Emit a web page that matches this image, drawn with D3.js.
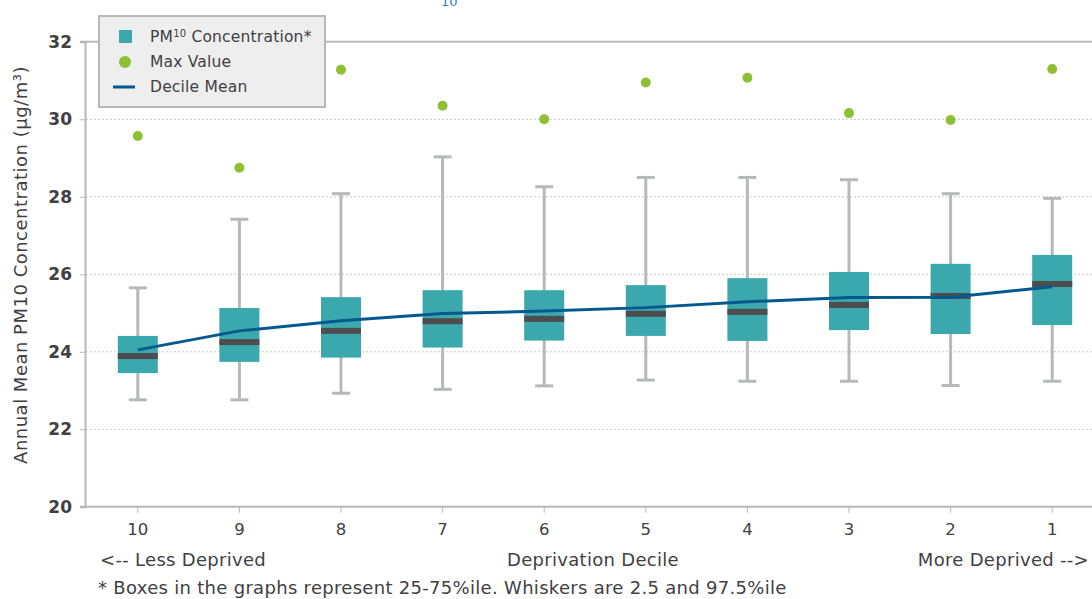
<!DOCTYPE html>
<html><head><meta charset="utf-8">
<script src="https://cdn.jsdelivr.net/npm/d3@7"></script>
<style>body{margin:0;background:#fff}svg{display:block;font-family:"DejaVu Sans", sans-serif}</style>
</head><body>
<svg id="c" width="1092" height="599"></svg>
<script>
const categories = ["10","9","8","7","6","5","4","3","2","1"];
const whiskerLow  = [22.76,22.76,22.93,23.03,23.12,23.27,23.24,23.24,23.13,23.24];
const q1          = [23.45,23.74,23.85,24.11,24.29,24.41,24.28,24.56,24.46,24.69];
const median      = [23.89,24.25,24.54,24.79,24.85,24.98,25.03,25.21,25.44,25.75];
const q3          = [24.41,25.13,25.41,25.59,25.59,25.72,25.90,26.06,26.27,26.50];
const whiskerHigh = [25.65,27.42,28.08,29.03,28.26,28.50,28.50,28.44,28.08,27.96];
const maxValue    = [29.57,28.75,31.28,30.35,30.00,30.95,31.07,30.16,29.98,31.30];
const decileMean  = [24.05,24.54,24.80,24.99,25.05,25.14,25.29,25.40,25.41,25.68];
const yTicks = [20,22,24,26,28,30,32];

const FONT = '"DejaVu Sans", sans-serif';
const TXT = "#414042";
const svg = d3.select("#c");
const x = d3.scaleBand().domain(categories).range([87, 1103]);
const y = d3.scaleLinear().domain([20, 32]).range([506.8, 41.8]);
const cx = c => x(c) + x.bandwidth()/2;
const data = categories.map((c,i)=>({c, lo:whiskerLow[i], q1:q1[i], med:median[i], q3:q3[i], hi:whiskerHigh[i], max:maxValue[i], mean:decileMean[i]}));

// partially visible title fragment at top
svg.append("text").attr("x",441).attr("y",6).attr("font-size",13).attr("fill","#2f7ec1").text("10");

// gridlines
svg.append("g").selectAll("line").data(yTicks.filter(t=>t>20 && t<32)).join("line")
  .attr("x1",86).attr("x2",1092).attr("y1",d=>y(d)).attr("y2",d=>y(d))
  .attr("stroke","#c9c9c9").attr("stroke-width",1).attr("stroke-dasharray","2,2");
// top border at 32
svg.append("line").attr("x1",80).attr("x2",1092).attr("y1",y(32)).attr("y2",y(32)).attr("stroke","#b6b8ba").attr("stroke-width",2);

// y axis
const yAxis = svg.append("g").attr("transform","translate(85,0)")
  .call(d3.axisLeft(y).tickValues(yTicks).tickSize(5).tickPadding(8).tickFormat(d3.format("d")));
yAxis.select(".domain").attr("stroke","#b6b8ba").attr("stroke-width",2);
yAxis.selectAll(".tick line").attr("stroke","#b6b8ba").attr("stroke-width",1);
yAxis.selectAll(".tick text").attr("font-size",17).attr("font-weight","bold").attr("fill",TXT).attr("font-family",FONT);

// x axis
const xAxis = svg.append("g").attr("transform",`translate(0,${y(20)})`)
  .call(d3.axisBottom(x).tickSize(6).tickPadding(10));
xAxis.select(".domain").attr("d","M80,0H1092").attr("stroke","#b6b8ba").attr("stroke-width",2);
xAxis.selectAll(".tick line").attr("stroke","#b6b8ba").attr("stroke-width",1);
xAxis.selectAll(".tick text").attr("font-size",16.5).attr("fill",TXT).attr("font-family",FONT);

// whiskers
const g = svg.append("g");
g.selectAll(".wv").data(data).join("line")
  .attr("x1",d=>cx(d.c)).attr("x2",d=>cx(d.c)).attr("y1",d=>y(d.lo)).attr("y2",d=>y(d.hi))
  .attr("stroke","#b6b8ba").attr("stroke-width",3);
g.selectAll(".ch").data(data).join("line")
  .attr("x1",d=>cx(d.c)-9).attr("x2",d=>cx(d.c)+9).attr("y1",d=>y(d.hi)).attr("y2",d=>y(d.hi))
  .attr("stroke","#b6b8ba").attr("stroke-width",3);
g.selectAll(".cl").data(data).join("line")
  .attr("x1",d=>cx(d.c)-9).attr("x2",d=>cx(d.c)+9).attr("y1",d=>y(d.lo)).attr("y2",d=>y(d.lo))
  .attr("stroke","#b6b8ba").attr("stroke-width",3);
// boxes
g.selectAll(".bx").data(data).join("rect")
  .attr("x",d=>cx(d.c)-20).attr("width",40).attr("y",d=>y(d.q3)).attr("height",d=>y(d.q1)-y(d.q3))
  .attr("fill","#3aa8ad");
// medians
g.selectAll(".md").data(data).join("rect")
  .attr("x",d=>cx(d.c)-20).attr("width",40).attr("y",d=>y(d.med)-3).attr("height",6)
  .attr("fill","#4d4d4f");
// mean line
svg.append("path").datum(data)
  .attr("d", d3.line().x(d=>cx(d.c)).y(d=>y(d.mean)))
  .attr("fill","none").attr("stroke","#03598f").attr("stroke-width",3);
// max points
svg.append("g").selectAll("circle").data(data).join("circle")
  .attr("cx",d=>cx(d.c)).attr("cy",d=>y(d.max)).attr("r",5).attr("fill","#8dc133");

// legend
const lg = svg.append("g");
lg.append("rect").attr("x",99).attr("y",16).attr("width",226).attr("height",91)
  .attr("fill","#eeeeee").attr("stroke","#b6b8ba").attr("stroke-width",2);
lg.append("rect").attr("x",119).attr("y",30).attr("width",13).attr("height",13).attr("fill","#3aa8ad");
lg.append("circle").attr("cx",125).attr("cy",62).attr("r",6).attr("fill","#8dc133");
lg.append("line").attr("x1",113).attr("x2",135).attr("y1",87).attr("y2",87).attr("stroke","#03598f").attr("stroke-width",3);
const lt = lg.append("g").attr("font-size",15.5).attr("letter-spacing",0.2).attr("fill",TXT);
const t1 = lt.append("text").attr("x",150).attr("y",42);
t1.append("tspan").text("PM");
t1.append("tspan").attr("font-size",10).attr("dy",-5).text("10");
t1.append("tspan").attr("dy",5).text(" Concentration*");
lt.append("text").attr("x",150).attr("y",67).text("Max Value");
lt.append("text").attr("x",150).attr("y",92).text("Decile Mean");

// y title
svg.append("text").attr("transform","translate(27,265) rotate(-90)").attr("text-anchor","middle")
  .attr("font-size",18).attr("letter-spacing",0.5).attr("fill",TXT).text("Annual Mean PM10 Concentration (µg/m³)");

// x labels
const xl = svg.append("g").attr("font-size",18).attr("letter-spacing",0.3).attr("fill",TXT);
xl.append("text").attr("x",100).attr("y",566).text("<-- Less Deprived");
xl.append("text").attr("x",593).attr("y",566).attr("text-anchor","middle").text("Deprivation Decile");
xl.append("text").attr("x",1089).attr("y",566).attr("text-anchor","end").text("More Deprived -->");
svg.append("text").attr("x",98).attr("y",594).attr("font-size",18).attr("letter-spacing",0.3).attr("fill",TXT)
  .text("* Boxes in the graphs represent 25-75%ile. Whiskers are 2.5 and 97.5%ile");
</script>
</body></html>
